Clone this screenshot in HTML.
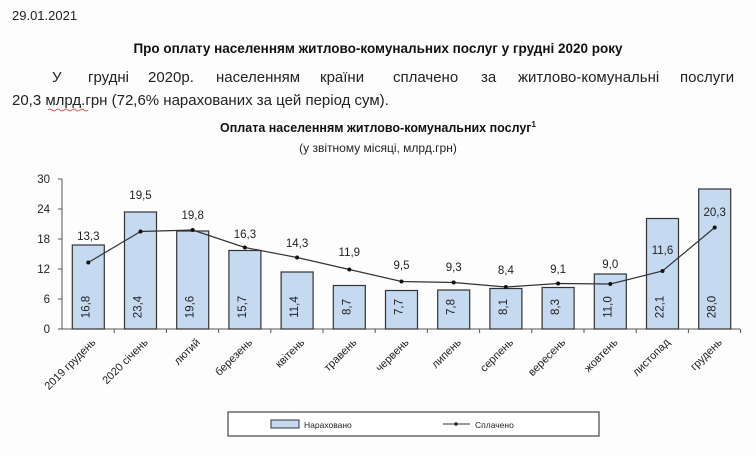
<!DOCTYPE html>
<html><head><meta charset="utf-8"><style>
body{margin:0;background:#fff;}
svg{display:block;font-family:"Liberation Sans","DejaVu Sans",sans-serif;}
</style></head><body>
<svg width="756" height="456" viewBox="0 0 756 456" xmlns="http://www.w3.org/2000/svg">
<rect width="756" height="456" fill="#fdfdfd"/>
<text x="12" y="20" font-size="13" fill="#222">29.01.2021</text>
<text x="378" y="53" font-size="13.5" font-weight="bold" text-anchor="middle" fill="#111">Про оплату населенням житлово-комунальних послуг у грудні 2020 року</text>
<g font-size="15" fill="#222">
<text x="52" y="82">У</text><text x="88" y="82">грудні</text><text x="148" y="82">2020р.</text>
<text x="216" y="82">населенням</text><text x="320" y="82">країни</text><text x="393" y="82">сплачено</text>
<text x="481" y="82">за</text><text x="518" y="82">житлово-комунальні</text><text x="680" y="82">послуги</text>
</g>
<text x="12" y="105" font-size="15" fill="#222">20,3 млрд.грн (72,6% нарахованих за цей період сум).</text>
<path d="M48 110 q2 -2 4 0 t4 0 t4 0 t4 0 t4 0 t4 0 t4 0 t4 0 t4 0 t4 0" stroke="#c33" fill="none" stroke-width="0.8"/>
<text x="378" y="132" font-size="12.5" font-weight="bold" text-anchor="middle" fill="#111">Оплата населенням житлово-комунальних послуг<tspan font-size="8" dy="-5">1</tspan></text>
<text x="378" y="152" font-size="12" text-anchor="middle" fill="#222">(у звітному місяці, млрд.грн)</text>
<g font-size="11.5" fill="#222" text-anchor="end">
<text x="50" y="183">30</text><text x="50" y="213">24</text><text x="50" y="243">18</text>
<text x="50" y="273">12</text><text x="50" y="303">6</text><text x="50" y="333">0</text>
</g>
<g stroke="#555" stroke-width="1">
<line x1="62" y1="179" x2="62" y2="329"/>
<line x1="58" y1="179" x2="62" y2="179"/><line x1="58" y1="209" x2="62" y2="209"/>
<line x1="58" y1="239" x2="62" y2="239"/><line x1="58" y1="269" x2="62" y2="269"/>
<line x1="58" y1="299" x2="62" y2="299"/><line x1="58" y1="329" x2="62" y2="329"/>
<line x1="62" y1="329" x2="740" y2="329"/>
</g>
<g id="bars" fill="#c5d9f1" stroke="#333" stroke-width="1.2"></g>
<g id="rest"></g>
<rect x="228" y="412" width="371" height="24" fill="#fff" stroke="#444" stroke-width="1.2"/>
<rect x="271" y="420" width="28" height="8" fill="#c5d9f1" stroke="#333" stroke-width="1"/>
<text x="304" y="428" font-size="8.5" fill="#222">Нараховано</text>
<line x1="443" y1="424" x2="470" y2="424" stroke="#333" stroke-width="1"/>
<circle cx="456" cy="424" r="1.8" fill="#222"/>
<text x="475" y="428" font-size="8.5" fill="#222">Сплачено</text>
<script>
var ns="http://www.w3.org/2000/svg";
var nar=[16.8,23.4,19.6,15.7,11.4,8.7,7.7,7.8,8.1,8.3,11.0,22.1,28.0];
var spl=[13.3,19.5,19.8,16.3,14.3,11.9,9.5,9.3,8.4,9.1,9.0,11.6,20.3];
var ly=[236,195,215,234,243,252,265,267,270,269,264,250,212];
var cats=["2019 грудень","2020 січень","лютий","березень","квітень","травень","червень","липень","серпень","вересень","жовтень","листопад","грудень"];
var bars=document.getElementById("bars"),rest=document.getElementById("rest");
function el(p,t,a,txt){var e=document.createElementNS(ns,t);for(var k in a)e.setAttribute(k,a[k]);if(txt)e.textContent=txt;p.appendChild(e);return e;}
var pts=[];
for(var i=0;i<13;i++){
 var cx=88.3+i*52.2, y=329-5*nar[i];
 el(bars,"rect",{x:cx-16,y:y,width:32,height:329-y});
 el(rest,"line",{x1:62+(i+1)*52.2,y1:329,x2:62+(i+1)*52.2,y2:333,stroke:"#555"});
 el(rest,"text",{x:cx+5,y:311,"font-size":"11.5",fill:"#222","text-anchor":"middle",transform:"rotate(-90 "+(cx+1)+" 311)"},nar[i].toFixed(1).replace(".",","));
 var py=329-5*spl[i]; pts.push(cx+","+py);
 el(rest,"text",{x:cx,y:ly[i]+4,"font-size":"11.5",fill:"#222","text-anchor":"middle"},spl[i].toFixed(1).replace(".",","));
 el(rest,"text",{x:cx+8,y:343,"font-size":"11","fill":"#222","text-anchor":"end",transform:"rotate(-45 "+(cx+8)+" 343)"},cats[i]);
}
el(rest,"polyline",{points:pts.join(" "),fill:"none",stroke:"#333","stroke-width":"1.2"});
for(var i=0;i<13;i++){var p=pts[i].split(",");el(rest,"circle",{cx:p[0],cy:p[1],r:"2",fill:"#111"});}
</script>
</svg>
</body></html>
